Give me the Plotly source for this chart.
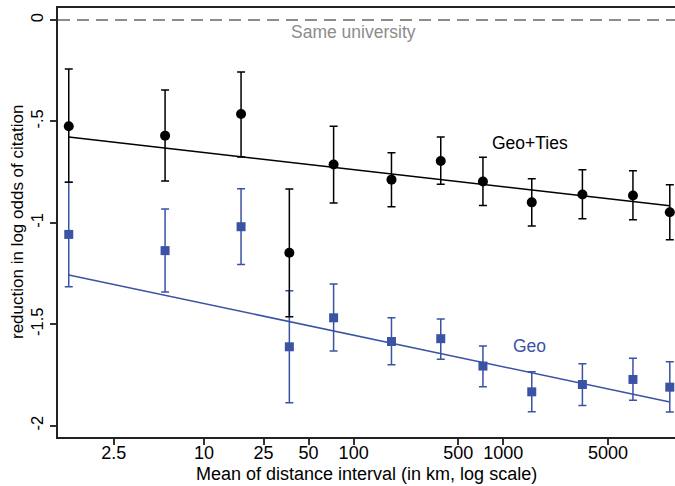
import numpy as np
import plotly.graph_objects as go

# ---- data ----
distance_km = [1.25, 5.5, 17.7, 37.2, 73.5, 179, 382, 731, 1549, 3376, 7346, 12950]

geo_ties = [-0.524, -0.570, -0.463, -1.147, -0.712, -0.787, -0.695, -0.796, -0.899, -0.860, -0.865, -0.948]
geo_ties_hi = [-0.242, -0.345, -0.256, -0.833, -0.524, -0.654, -0.577, -0.677, -0.782, -0.738, -0.743, -0.812]
geo_ties_lo = [-0.800, -0.794, -0.675, -1.463, -0.902, -0.920, -0.810, -0.915, -1.016, -0.980, -0.985, -1.083]

geo = [-1.057, -1.137, -1.019, -1.611, -1.468, -1.585, -1.571, -1.706, -1.833, -1.797, -1.772, -1.810]
geo_hi = [-0.800, -0.932, -0.832, -1.335, -1.302, -1.468, -1.474, -1.607, -1.734, -1.695, -1.668, -1.685]
geo_lo = [-1.315, -1.341, -1.205, -1.887, -1.632, -1.700, -1.672, -1.808, -1.931, -1.900, -1.874, -1.933]

# fitted lines: y = intercept + slope * log10(distance)
geo_ties_fit = {"intercept": -0.5687, "slope": -0.0845}
geo_fit = {"intercept": -1.2417, "slope": -0.156}

same_university = 0.0

x_tickvals = [2.5, 10, 25, 50, 100, 500, 1000, 5000]
x_ticktext = ["2.5", "10", "25", "50", "100", "500", "1000", "5000"]
y_tickvals = [0, -0.5, -1, -1.5, -2]
y_ticktext = ["0", "-.5", "-1", "-1.5", "-2"]

BLACK = "#000000"
BLUE = "#3a53a4"
GRAY = "#8c8c8c"
FONT = "Liberation Sans, Arial, Helvetica, sans-serif"

fig = go.Figure()

fx = np.array([distance_km[0], distance_km[-1]], dtype=float)


def err(vals, hi, lo):
    v = np.array(vals); h = np.array(hi); l = np.array(lo)
    return list(h - v), list(v - l)


# Geo (blue) first
up, dn = err(geo, geo_hi, geo_lo)
fig.add_trace(go.Scatter(
    x=distance_km, y=geo, mode="markers",
    marker=dict(symbol="square", size=9, color=BLUE),
    error_y=dict(type="data", array=up, arrayminus=dn, color=BLUE, thickness=1.5, width=4),
    showlegend=False))
fig.add_trace(go.Scatter(
    x=fx, y=geo_fit["intercept"] + geo_fit["slope"] * np.log10(fx), mode="lines",
    line=dict(color=BLUE, width=1.5), showlegend=False))

# Geo+Ties (black)
up, dn = err(geo_ties, geo_ties_hi, geo_ties_lo)
fig.add_trace(go.Scatter(
    x=distance_km, y=geo_ties, mode="markers",
    marker=dict(symbol="circle", size=10, color=BLACK),
    error_y=dict(type="data", array=up, arrayminus=dn, color=BLACK, thickness=1.5, width=4),
    showlegend=False))
fig.add_trace(go.Scatter(
    x=fx, y=geo_ties_fit["intercept"] + geo_ties_fit["slope"] * np.log10(fx), mode="lines",
    line=dict(color=BLACK, width=1.5), showlegend=False))

# reference line
fig.add_shape(type="line", xref="paper", x0=0, x1=1, yref="y", y0=same_university, y1=same_university,
              line=dict(color=GRAY, width=2, dash="12px,7px"), layer="below")

L, R, T, B = 58, 0, 8, 49
W, H = 675, 486
pw, ph = W - L - R, H - T - B

fig.add_annotation(x=np.log10(100), y=same_university, xref="x", yref="y", yshift=-12,
                   text="Same university", showarrow=False,
                   font=dict(color=GRAY, size=17.5, family=FONT))
fig.add_annotation(x=np.log10(1500), y=-0.605, xref="x", yref="y",
                   text="Geo+Ties", showarrow=False,
                   font=dict(color=BLACK, size=17.5, family=FONT))
fig.add_annotation(x=np.log10(1500), y=-1.606, xref="x", yref="y",
                   text="Geo", showarrow=False,
                   font=dict(color=BLUE, size=17.5, family=FONT))

# axis titles
fig.add_annotation(xref="paper", yref="paper", x=(17.5 - L) / pw, y=0.5,
                   text="reduction in log odds of citation", textangle=-90, showarrow=False,
                   xanchor="center", yanchor="middle",
                   font=dict(color=BLACK, size=17, family=FONT))
fig.add_annotation(xref="paper", yref="paper", x=0.5, y=-(474 - (H - B)) / ph,
                   text="Mean of distance interval (in km, log scale)", showarrow=False,
                   xanchor="center", yanchor="middle",
                   font=dict(color=BLACK, size=18, family=FONT))

fig.update_layout(
    width=W, height=H,
    margin=dict(l=L, r=R, t=T, b=B, pad=0),
    paper_bgcolor="white", plot_bgcolor="white",
    font=dict(family=FONT, size=17, color=BLACK),
    xaxis=dict(type="log", range=[0.025, 4.147], tickvals=x_tickvals, ticktext=x_ticktext,
               showgrid=False, zeroline=False, showline=True, linecolor="#222", linewidth=2,
               mirror=True, ticks="outside", ticklen=6, tickwidth=1.5, tickcolor="#333",
               ticklabelstandoff=-8,
               tickfont=dict(size=18, family=FONT, color=BLACK)),
    yaxis=dict(range=[-2.0557, 0.0592], tickvals=y_tickvals, ticktext=y_ticktext,
               tickangle=-90, showgrid=False, zeroline=False, showline=True, linecolor="#222",
               linewidth=2, ticks="outside", ticklen=6, tickwidth=1.5, tickcolor="#333",
               tickfont=dict(size=16.5, family=FONT, color=BLACK)),
)

fig.write_html("out.html")
